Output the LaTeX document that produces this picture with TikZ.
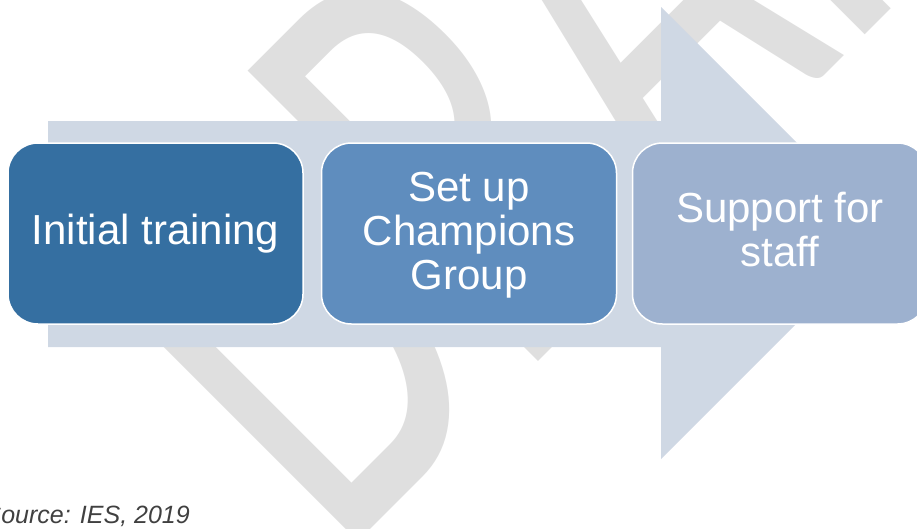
\documentclass[tikz,border=0pt]{standalone}
\usepackage{fontspec}
\setmainfont{Liberation Sans}
\newfontfamily\wmfont{Carlito}
\definecolor{wmgray}{RGB}{223,223,223}
\definecolor{arrowc}{RGB}{207,216,228}
\definecolor{boxa}{RGB}{53,111,161}
\definecolor{boxb}{RGB}{95,141,190}
\definecolor{boxc}{RGB}{157,177,207}
\definecolor{srcgray}{RGB}{64,64,64}
\tikzset{
  stepbox/.style={draw=white, line width=1.5pt, rounded corners=30pt,
    minimum width=295pt, minimum height=181pt, inner sep=0pt},
  boxtext/.style={text=white, align=center, inner sep=0pt,
    font=\fontsize{42}{44}\selectfont},
}
\begin{document}
\begin{tikzpicture}[x=1pt,y=-1pt]
\useasboundingbox (0,0) rectangle (917,528);
% watermark
\node[rotate=45, anchor=base west, inner sep=0pt, text=wmgray] (wm) at (338,562)
  {\scalebox{1}[1.55]{\wmfont\fontsize{413}{413}\selectfont DRAFT}};
% big arrow
\fill[arrowc] (48,121) -- (661,121) -- (661,7) -- (887,233) -- (661,459)
  -- (661,347) -- (48,347) -- cycle;
% boxes
\node[stepbox, fill=boxa] (b1) at (155.5,233.5) {};
\node[stepbox, fill=boxb] (b2) at (469,233.5) {};
\node[stepbox, fill=boxc] (b3) at (780,233.5) {};
\node[boxtext] (t1) at (b1.center) {Initial training};
\node[boxtext] (t2) at ([yshift=-2pt]b2.center) {Set up\\Champions\\Group};
\node[boxtext] (t3) at ([yshift=3.5pt]b3.center) {Support for\\staff};
% source
\node[anchor=base east, inner sep=0pt, text=srcgray,
  font=\itshape\fontsize{25}{30}\selectfont] (src) at (190,523) {Source: IES, 2019};
\end{tikzpicture}
\end{document}
